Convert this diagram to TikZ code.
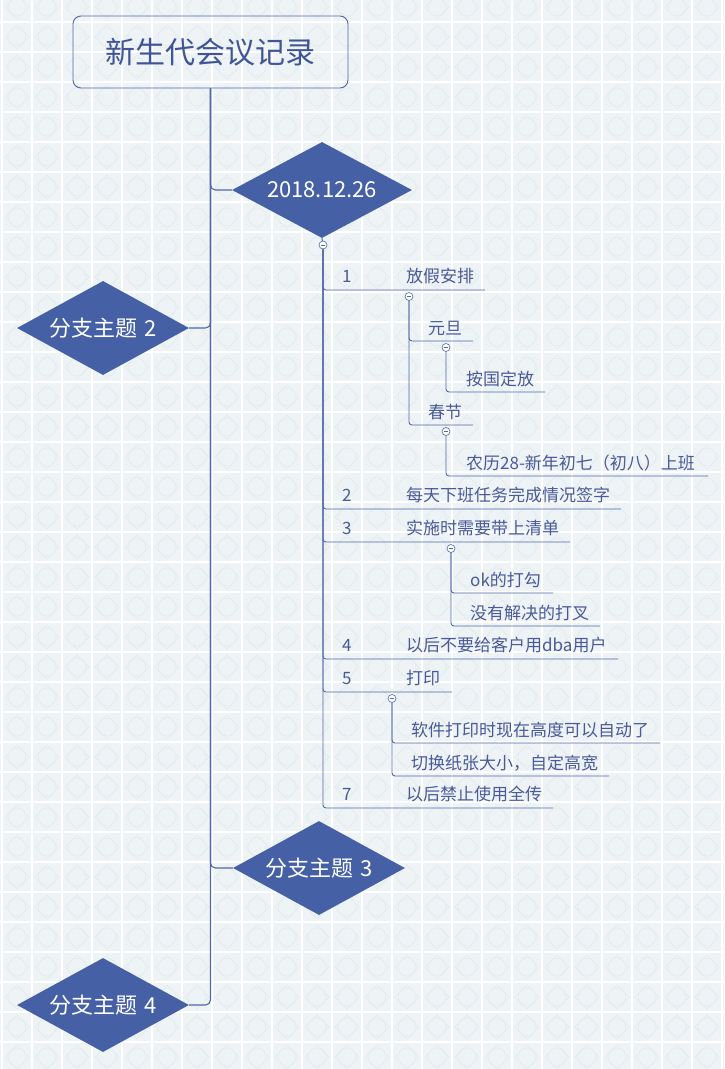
\documentclass[tikz,border=0pt]{standalone}
\usepackage{fontspec}
\setmainfont{Noto Sans CJK SC}
\usetikzlibrary{shapes.geometric}
\definecolor{bgc}{HTML}{EEF3F6}
\definecolor{motif}{HTML}{E5ECF0}
\definecolor{linec}{HTML}{5169A8}
\definecolor{textc}{HTML}{4A5A98}
\definecolor{titlec}{HTML}{3F5596}
\definecolor{dfill}{HTML}{4660A6}
\tikzset{
  titlebox/.style={draw=linec, line width=0.9pt, rounded corners=8pt, minimum width=275pt, minimum height=72pt, inner sep=0pt, text=titlec, font=\fontsize{30}{33}\selectfont},
  dbox/.style={diamond, shape aspect=1.875, fill=dfill, inner sep=0pt, text=white, font=\fontsize{22}{25}\selectfont},
  trunk/.style={draw=linec, line width=1.1pt, rounded corners=5pt},
  conn/.style={draw=linec, line width=0.9pt, rounded corners=3pt},
  itemtext/.style={anchor=base west, inner sep=0pt, text=textc, font=\fontsize{17}{20}\selectfont},
  fold/.style={circle, draw=linec, fill=white, line width=0.6pt, inner sep=0pt, minimum size=8pt,
    path picture={\draw[linec, line width=0.6pt] ([xshift=-2.3pt]path picture bounding box.center) -- ([xshift=2.3pt]path picture bounding box.center);}}
}
\begin{document}
\begin{tikzpicture}[x=1pt,y=-1pt]
\useasboundingbox (0,0) rectangle (724,1069);
% background
\begin{scope}
\clip (0,0) rectangle (724,1069);
\fill[bgc] (0,0) rectangle (724,1069);
\foreach \cx in {17,47,...,737} {
  \foreach \cy in {7,37,...,1087} {
    \draw[motif, line width=0.7pt] (\cx,\cy) circle (9);
    \draw[motif, line width=0.7pt] (\cx-12,\cy) -- (\cx,\cy-12) -- (\cx+12,\cy) -- (\cx,\cy+12) -- cycle;
  }
}
\foreach \gx in {2,32,...,722} \draw[white, line width=1.5pt] (\gx,0) -- (\gx,1069);
\foreach \gy in {22,52,...,1062} \draw[white, line width=1.5pt] (0,\gy) -- (724,\gy);
\end{scope}

% main topic and branches
\node[titlebox] (title) at (210.5,52) {新生代会议记录};
\node[dbox, minimum width=180pt, minimum height=96pt] (d1) at (322,190) {2018.12.26};
\node[dbox, minimum width=172pt, minimum height=94pt] (d2) at (103,328) {分支主题\hspace{0.3em}2};
\node[dbox, minimum width=172pt, minimum height=94pt] (d3) at (319,868) {分支主题\hspace{0.3em}3};
\node[dbox, minimum width=172pt, minimum height=94pt] (d4) at (103,1005) {分支主题\hspace{0.3em}4};
\draw[trunk] (title.south) |- (d1.west);
\draw[trunk] (title.south) |- (d2.east);
\draw[trunk] (title.south) |- (d3.west);
\draw[trunk] (title.south) |- (d4.east);

% fold button positions
\coordinate (p0) at (323,245);
\coordinate (p1) at (409,296.5);
\coordinate (p2) at (446,347.5);
\coordinate (p3) at (446,431.5);
\coordinate (p4) at (451,548.5);
\coordinate (p5) at (392,698.5);

% underline end points
\coordinate (u1) at (485,290);
\coordinate (u2) at (621,509);
\coordinate (u3) at (570,542);
\coordinate (u4) at (618,659);
\coordinate (u5) at (452,692);
\coordinate (u7) at (553,808);
\coordinate (u11) at (473,341);
\coordinate (u111) at (545,392);
\coordinate (u12) at (473,425);
\coordinate (u121) at (708,476);
\coordinate (u31) at (553,593);
\coordinate (u32) at (600,626);
\coordinate (u51) at (660,743);
\coordinate (u52) at (609,776);

\draw[conn, rounded corners=0pt] (d1.south) -- (p0);
\foreach \u in {u1,u2,u3,u4,u5,u7} \draw[conn] (p0) |- (\u);
\draw[conn] (p1) |- (u11);
\draw[conn] (p1) |- (u12);
\draw[conn] (p2) |- (u111);
\draw[conn] (p3) |- (u121);
\draw[conn] (p4) |- (u31);
\draw[conn] (p4) |- (u32);
\draw[conn] (p5) |- (u51);
\draw[conn] (p5) |- (u52);

% fold buttons on top of the lines
\node[fold] (c0) at (p0) {};
\node[fold] (c1) at (p1) {};
\node[fold] (c2) at (p2) {};
\node[fold] (c3) at (p3) {};
\node[fold] (c4) at (p4) {};
\node[fold] (c5) at (p5) {};

% item texts
\node[itemtext] (n1) at (342,282) {1};
\node[itemtext] (t1) at (406,282) {放假安排};
\node[itemtext] (n2) at (342,501) {2};
\node[itemtext] (t2) at (406,501) {每天下班任务完成情况签字};
\node[itemtext] (n3) at (342,534) {3};
\node[itemtext] (t3) at (406,534) {实施时需要带上清单};
\node[itemtext] (n4) at (342,651) {4};
\node[itemtext] (t4) at (406,651) {以后不要给客户用dba用户};
\node[itemtext] (n5) at (342,684) {5};
\node[itemtext] (t5) at (406,684) {打印};
\node[itemtext] (n7) at (342,800) {7};
\node[itemtext] (t7) at (406,800) {以后禁止使用全传};
\node[itemtext] (t11) at (428,334) {元旦};
\node[itemtext] (t111) at (466,385) {按国定放};
\node[itemtext] (t12) at (428,418) {春节};
\node[itemtext] (t121) at (466,469) {农历28-新年初七（初八）上班};
\node[itemtext] (t31) at (470,586) {ok的打勾};
\node[itemtext] (t32) at (470,619) {没有解决的打叉};
\node[itemtext] (t51) at (411,736) {软件打印时现在高度可以自动了};
\node[itemtext] (t52) at (411,769) {切换纸张大小，自定高宽};
\end{tikzpicture}
\end{document}
